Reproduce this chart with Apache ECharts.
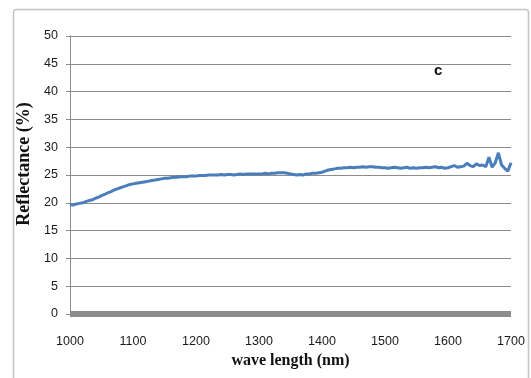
<!DOCTYPE html>
<html>
<head>
<meta charset="utf-8">
<script src="https://cdn.jsdelivr.net/npm/echarts@6/dist/echarts.min.js"></script>
<style>html,body{margin:0;padding:0;background:#fff;}#c{width:531px;height:378px;}</style>
</head>
<body>
<div id="c"></div>
<script>
var wavelengths = [1000,1005,1010,1015,1020,1025,1030,1035,1040,1045,1050,1055,1060,1065,1070,1075,1080,1085,1090,1095,
1100,1105,1110,1115,1120,1125,1130,1135,1140,1145,1150,1155,1160,1165,1170,1175,1180,1185,1190,1195,
1200,1205,1210,1215,1220,1225,1230,1235,1240,1245,1250,1255,1260,1265,1270,1275,1280,1285,1290,1295,
1300,1305,1310,1315,1320,1325,1330,1335,1340,1345,1350,1355,1360,1365,1370,1375,1380,1385,1390,1395,
1400,1405,1410,1415,1420,1425,1430,1435,1440,1445,1450,1455,1460,1465,1470,1475,1480,1485,1490,1495,
1500,1505,1510,1515,1520,1525,1530,1535,1540,1545,1550,1555,1560,1565,1570,1575,1580,1585,1590,1595,
1600,1605,1610,1615,1620,1625,1630,1635,1640,1645,1650,1655,1660,1665,1670,1675,1680,1685,1690,1695,1700];
var reflectance = [19.7,19.6,19.8,19.9,20.0,20.2,20.4,20.5,20.8,21.0,21.3,21.5,21.8,22.0,22.3,22.5,22.7,22.9,23.1,23.3,
23.4,23.5,23.6,23.7,23.8,23.9,24.0,24.1,24.2,24.3,24.4,24.4,24.5,24.6,24.6,24.7,24.7,24.7,24.8,24.8,
24.8,24.9,24.9,24.9,25.0,25.0,25.0,25.0,25.1,25.0,25.1,25.1,25.0,25.1,25.2,25.1,25.2,25.2,25.2,25.2,
25.2,25.2,25.3,25.2,25.3,25.3,25.4,25.4,25.4,25.3,25.2,25.1,25.0,25.1,25.0,25.2,25.2,25.3,25.3,25.4,
25.5,25.7,25.9,26.0,26.1,26.2,26.2,26.3,26.3,26.4,26.3,26.4,26.4,26.5,26.4,26.5,26.5,26.4,26.4,26.3,
26.3,26.2,26.3,26.4,26.3,26.2,26.3,26.4,26.2,26.3,26.2,26.3,26.3,26.4,26.3,26.4,26.5,26.3,26.4,26.2,
26.3,26.5,26.7,26.4,26.5,26.6,27.1,26.7,26.5,27.0,26.7,26.8,26.5,28.2,26.4,27.2,29.0,26.8,26.2,25.7,27.2];
var xTicks = [1000,1100,1200,1300,1400,1500,1600,1700];
var yTicks = [0,5,10,15,20,25,30,35,40,45,50];

var chart = echarts.init(document.getElementById('c'));
var pts = wavelengths.map(function(w,i){return [w, reflectance[i]];});
chart.setOption({
  animation:false,
  backgroundColor:'#fff',
  grid:{left:70,right:20,top:36,bottom:64,containLabel:false},
  graphic:[
    {type:'rect',shape:{x:13.5,y:9.5,width:515,height:420,r:3},style:{fill:'none',stroke:'#c4c4c4',lineWidth:1.5},z:-1},
    {type:'text',left:434,top:63,style:{text:'c',font:'bold 15px "Liberation Sans"',fill:'#111'}}
  ],
  xAxis:{
    type:'value',min:xTicks[0],max:xTicks[xTicks.length-1],interval:100,
    offset:2,
    axisLine:{show:true,lineStyle:{color:'#8c8c8c',width:6,cap:'butt'}},
    axisTick:{show:false},
    splitLine:{show:false},
    axisLabel:{margin:19,color:'#1a1a1a',fontSize:12.5,fontFamily:'Liberation Sans',formatter:function(v){return String(v);}},
    name:'wave length (nm)',nameLocation:'middle',nameGap:37,
    nameTextStyle:{fontFamily:'Liberation Serif',fontWeight:'bold',fontSize:16,color:'#111'}
  },
  yAxis:{
    type:'value',min:yTicks[0],max:yTicks[yTicks.length-1],interval:5,
    axisLine:{show:true,lineStyle:{color:'#8c8c8c',width:1}},
    axisTick:{show:true,inside:false,length:4,lineStyle:{color:'#8c8c8c'}},
    splitLine:{show:true,lineStyle:{color:'#8c8c8c',width:1}},
    axisLabel:{margin:12,color:'#1a1a1a',fontSize:12.5,fontFamily:'Liberation Sans'},
    name:'Reflectance (%)',nameLocation:'middle',nameGap:37,nameRotate:90,
    nameTextStyle:{fontFamily:'Liberation Serif',fontWeight:'bold',fontSize:18,color:'#111',padding:[0,0,0,22]}
  },
  series:[{
    type:'line',data:pts,showSymbol:false,symbol:'none',
    lineStyle:{color:'#4a7ebb',width:3},
    z:3
  }]
});
</script>
</body>
</html>
